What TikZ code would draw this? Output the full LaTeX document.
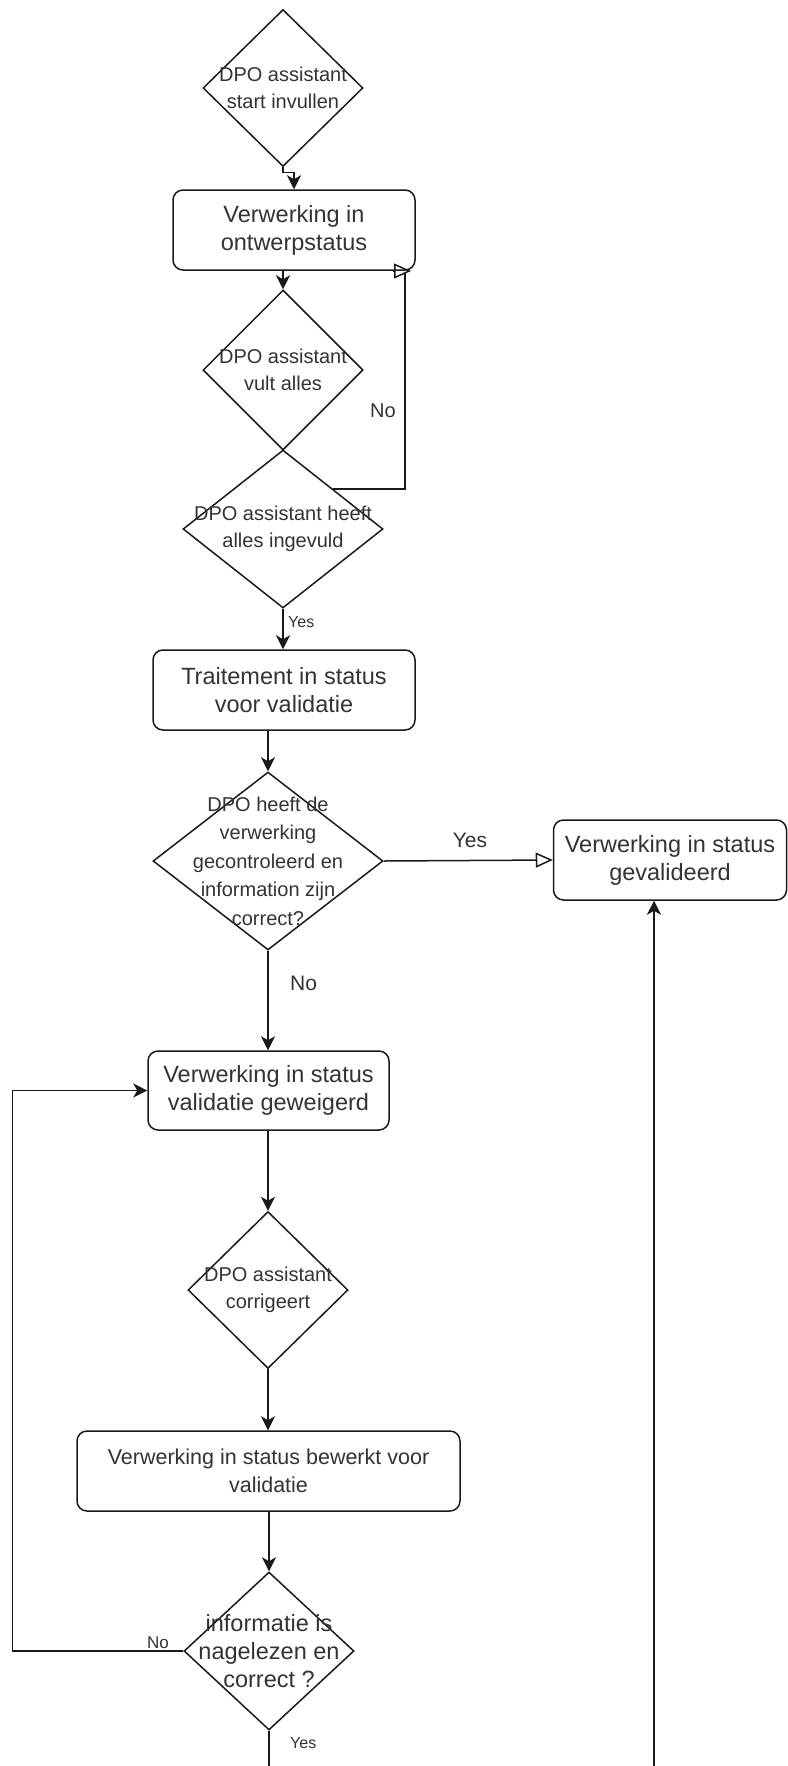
\documentclass[tikz,border=0pt]{standalone}
\usepackage{fontspec}
\setmainfont{Liberation Sans}
\usetikzlibrary{shapes.geometric,arrows.meta,calc}
\definecolor{txt}{HTML}{333333}
\definecolor{ln}{HTML}{1A1A1A}
\begin{document}
\begin{tikzpicture}[x=1pt,y=-1pt,
  box/.style={draw=ln, line width=1.5pt, rounded corners=10pt, inner sep=0pt, align=center, text=txt, font=\fontsize{23.5}{28}\selectfont},
  dia/.style={draw=ln, line width=1.5pt, diamond, inner sep=0pt},
  dtext/.style={align=center, text=txt, inner sep=0pt, font=\fontsize{20}{27.5}\selectfont},
  conn/.style={draw=ln, line width=1.5pt},
  arr/.style={conn, -{Stealth[length=14pt,width=14pt,inset=4pt]}},
  oarr/.style={conn, -{Triangle[open,length=17pt,width=15pt]}},
  lab/.style={text=txt, inner sep=0pt, anchor=base west}
]
\useasboundingbox (0,0) rectangle (787,1766);
\fill[white] (0,0) rectangle (787,1766);

% nodes
\node[dia, minimum width=160pt, minimum height=157pt,
  label={[dtext]center:{DPO assistant\\start invullen}}] (d1) at (283,88) {};
\node[box, minimum width=242pt, minimum height=80pt] (b1) at (294,230) {Verwerking in\\ontwerpstatus};
\node[dia, minimum width=160pt, minimum height=160pt,
  label={[dtext]center:{DPO assistant\\vult alles}}] (d2) at (283,370) {};
\node[dia, minimum width=200pt, minimum height=158pt,
  label={[dtext]center:{DPO assistant heeft\\alles ingevuld}}] (d3) at (283,529) {};
\node[box, minimum width=262pt, minimum height=80pt] (tr) at (284,690) {Traitement in status\\voor validatie};
\node[dia, minimum width=230pt, minimum height=178pt,
  label={[dtext, font=\fontsize{20}{28.5}\selectfont]center:{DPO heeft de\\verwerking\\gecontroleerd en\\information zijn\\correct?}}] (d4) at (268,861) {};
\node[box, minimum width=233pt, minimum height=80pt] (gev) at (670,860) {Verwerking in status\\gevalideerd};
\node[box, minimum width=241pt, minimum height=79pt] (gew) at (268.5,1090.5) {Verwerking in status\\validatie geweigerd};
\node[dia, minimum width=160pt, minimum height=157pt,
  label={[dtext]center:{DPO assistant\\corrigeert}}] (d5) at (268,1290) {};
\node[box, minimum width=383pt, minimum height=80pt, font=\fontsize{21.5}{28}\selectfont] (bew) at (268.5,1471) {Verwerking in status bewerkt voor\\validatie};
\node[dia, minimum width=170pt, minimum height=158pt,
  label={[dtext, font=\fontsize{23.5}{28}\selectfont]center:{informatie is\\nagelezen en\\correct ?}}] (d6) at (269,1651) {};

% helper coordinates
\coordinate (lp) at (405,273);
\coordinate (lpa) at (393,271);
\coordinate (lpb) at (411,271);
\coordinate (bot) at (0,1770);
\coordinate (rb) at (654,1770);

% connectors
\draw[arr] (d1.south) -- ++(0,5) -| (b1.north);
\draw[arr] (b1.south -| d2.north) -- (d2.north);
\draw[conn] ($(d3.north)!0.5!(d3.east)$) -| (lp);
\draw[oarr] (lpa) -- (lpb);
\draw[arr] (d3.south) -- (d3.south |- tr.north);
\draw[arr] (tr.south -| d4.north) -- (d4.north);
\draw[oarr] (d4.east) -- (gev.west);
\draw[arr] (d4.south) -- (d4.south |- gew.north);
\draw[arr] (gew.south -| d5.north) -- (d5.north);
\draw[arr] (d5.south) -- (d5.south |- bew.north);
\draw[arr] (bew.south -| d6.north) -- (d6.north);
\draw[arr] (d6.west) -- ++(-171,0) |- (gew.west);
\draw[conn] (d6.south) -- (d6.south |- bot);
\draw[arr] (rb) -- (rb |- gev.south);

% edge labels
\node[lab, font=\fontsize{20}{24}\selectfont] (no1) at (370,417) {No};
\node[lab, font=\fontsize{16}{19}\selectfont] (yes1) at (288,627) {Yes};
\node[lab, anchor=base, font=\fontsize{21}{25}\selectfont] (yes2) at (470,847) {Yes};
\node[lab, font=\fontsize{21}{25}\selectfont] (no2) at (290,990) {No};
\node[lab, font=\fontsize{17}{20}\selectfont] (no3) at (147,1648) {No};
\node[lab, font=\fontsize{16}{19}\selectfont] (yes3) at (290,1748) {Yes};
\end{tikzpicture}
\end{document}
